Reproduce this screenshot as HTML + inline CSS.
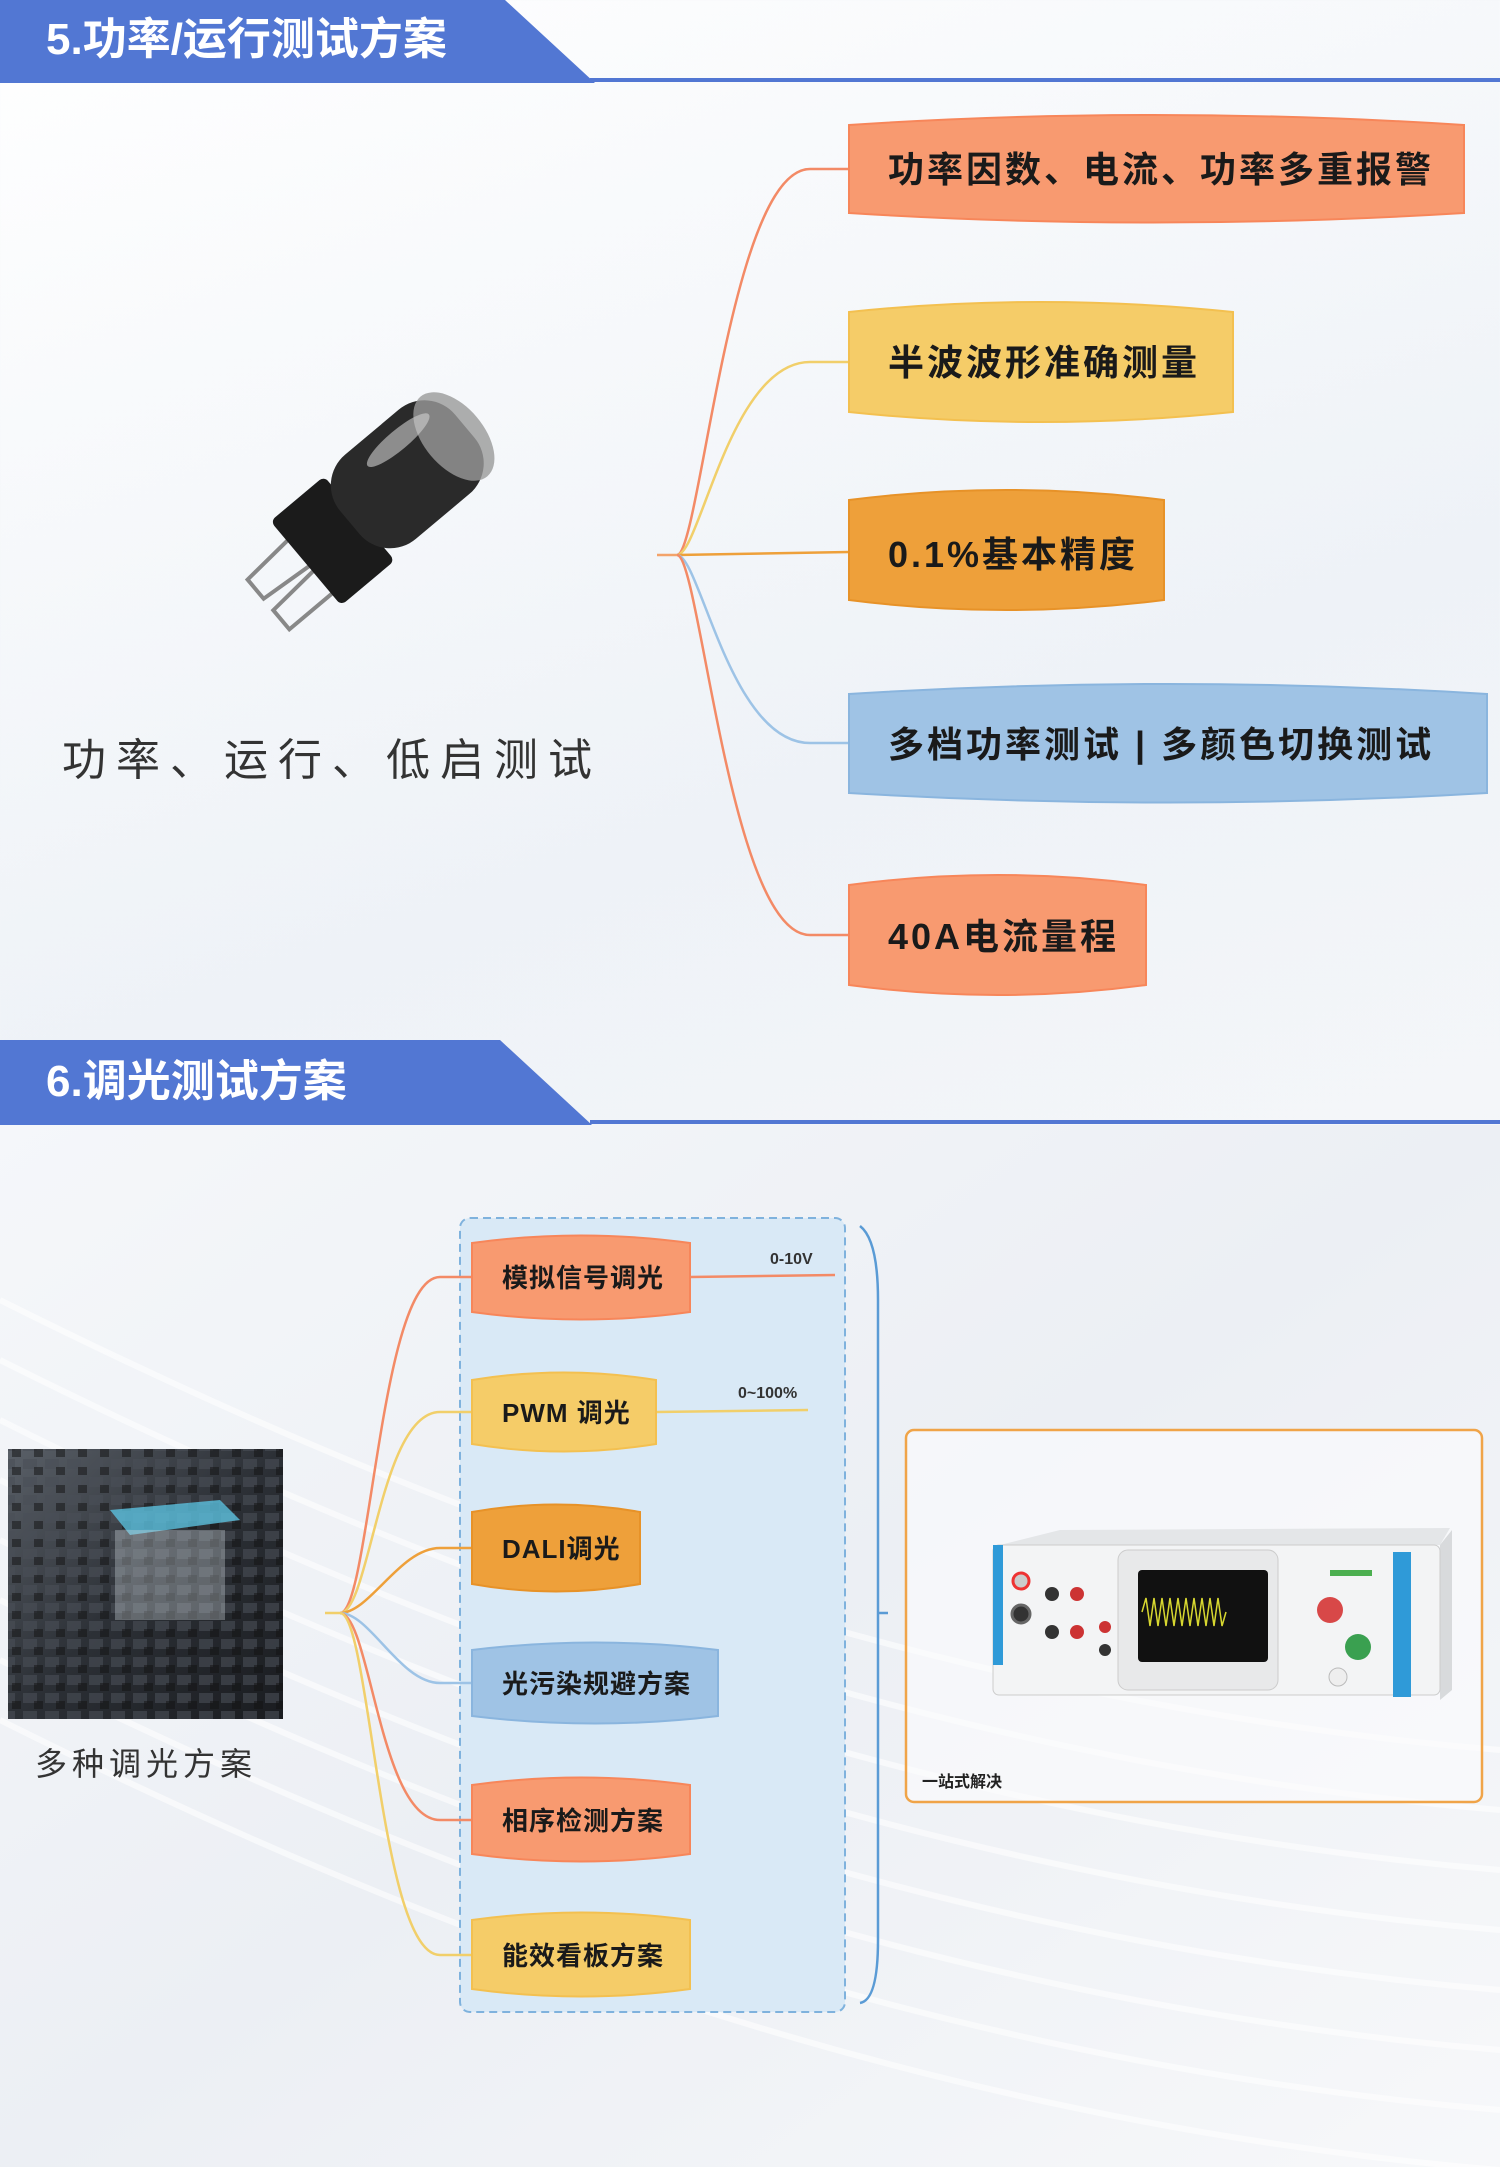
<!DOCTYPE html>
<html><head><meta charset="utf-8"><style>
html,body{margin:0;padding:0;width:1500px;height:2167px;overflow:hidden;}
body{background:linear-gradient(160deg,#ffffff 0%,#eef2f7 40%,#f4f6f9 60%,#e9edf2 100%);font-family:"Liberation Sans","Noto Sans CJK SC",sans-serif;}
svg text{font-family:"Liberation Sans","Noto Sans CJK SC",sans-serif;}
</style></head><body>
<svg width="1500" height="2167" viewBox="0 0 1500 2167" xmlns="http://www.w3.org/2000/svg">
<defs>
<linearGradient id="bg2" x1="0" y1="0" x2="1" y2="1">
<stop offset="0" stop-color="#f5f7fa"/><stop offset="0.5" stop-color="#eceff4"/><stop offset="1" stop-color="#f7f8fa"/>
</linearGradient>
<linearGradient id="photo" x1="0" y1="0" x2="1" y2="1">
<stop offset="0" stop-color="#5a6068"/><stop offset="0.5" stop-color="#2c3036"/><stop offset="1" stop-color="#1a1c20"/>
</linearGradient>
<pattern id="tiles" width="22" height="18" patternUnits="userSpaceOnUse">
<rect width="22" height="18" fill="none"/><rect x="1" y="1" width="14" height="10" fill="#4a4f57" opacity="0.6"/><rect x="12" y="9" width="9" height="8" fill="#111" opacity="0.5"/>
</pattern>
</defs>
<rect x="0" y="1125" width="1500" height="1042" fill="url(#bg2)"/>
<g stroke="#ffffff" stroke-width="6" fill="none" opacity="0.6">
<path d="M0 1300 C400 1500 900 1700 1500 1750"/><path d="M0 1360 C400 1560 900 1760 1500 1810"/><path d="M0 1420 C400 1620 900 1820 1500 1870"/><path d="M0 1480 C400 1680 900 1880 1500 1930"/><path d="M0 1540 C400 1740 900 1940 1500 1990"/><path d="M0 1600 C400 1800 900 2000 1500 2050"/><path d="M0 1660 C400 1860 900 2060 1500 2110"/><path d="M0 1720 C400 1920 900 2120 1500 2170"/>
</g>

<polygon points="0,0 505,0 595,83 0,83" fill="#5277d3"/>
<rect x="590" y="78" width="910" height="4" fill="#5277d3"/>
<text x="46" y="54" font-size="44" font-weight="bold" fill="#fff">5.功率/运行测试方案</text>

<g transform="translate(330,530) rotate(-40)">
<path d="M-30 -20 L-95 -15 L-95 10 L-30 15" stroke="#888" stroke-width="4" fill="none"/>
<path d="M-30 25 L-95 30 L-95 55 L-30 55" stroke="#888" stroke-width="4" fill="none" transform="translate(0,-5)"/>
<rect x="-40" y="-45" width="70" height="110" rx="6" fill="#1b1b1b"/>
<rect x="20" y="-48" width="150" height="110" rx="40" fill="#2a2a2a"/>
<ellipse cx="155" cy="8" rx="30" ry="52" fill="#9a9a9a" opacity="0.8"/>
<ellipse cx="110" cy="-25" rx="40" ry="10" fill="#d0d0d0" opacity="0.6"/>
</g>
<text x="62" y="775" font-size="44" fill="#333" letter-spacing="10">功率、运行、低启测试</text>

<g fill="none" stroke-width="2.5">
<path d="M657 555 L677 555" stroke="#f3a36a"/>
<path d="M677 555 C700 555 730 169 810 169 L849 169" stroke="#f38a66"/>
<path d="M677 555 C700 555 730 362 810 362 L849 362" stroke="#f1cf6a"/>
<path d="M677 555 L849 552" stroke="#eea03a"/>
<path d="M677 555 C700 555 730 743 810 743 L849 743" stroke="#9dc3e6"/>
<path d="M677 555 C700 555 730 935 810 935 L849 935" stroke="#f38a66"/>
</g>
<g stroke-width="2">
<path d="M849 125 Q1150 105 1464 125 L1464 213 Q1150 232 849 213 Z" fill="#f89a70" stroke="#f7865a"/>
<path d="M849 312 Q1040 292 1233 312 L1233 412 Q1040 432 849 412 Z" fill="#f5cc68" stroke="#f3c050"/>
<path d="M849 500 Q1006 480 1164 500 L1164 600 Q1006 620 849 600 Z" fill="#eea03a" stroke="#e79228"/>
<path d="M849 694 Q1168 674 1487 694 L1487 793 Q1168 812 849 793 Z" fill="#9fc3e5" stroke="#8ab5de"/>
<path d="M849 885 Q998 865 1146 885 L1146 985 Q998 1005 849 985 Z" fill="#f89a70" stroke="#f7865a"/>
</g>
<g font-size="36" font-weight="bold" fill="#1a1a1a" letter-spacing="3">
<text x="888" y="182">功率因数、电流、功率多重报警</text>
<text x="888" y="375">半波波形准确测量</text>
<text x="888" y="567">0.1%基本精度</text>
<text x="888" y="757">多档功率测试 | 多颜色切换测试</text>
<text x="888" y="949">40A电流量程</text>
</g>

<polygon points="0,1040 500,1040 592,1125 0,1125" fill="#5277d3"/>
<rect x="590" y="1120" width="910" height="4" fill="#5277d3"/>
<text x="46" y="1096" font-size="44" font-weight="bold" fill="#fff">6.调光测试方案</text>

<rect x="8" y="1449" width="275" height="270" fill="url(#photo)"/>
<rect x="8" y="1449" width="275" height="270" fill="url(#tiles)"/>
<polygon points="110,1510 220,1500 240,1520 130,1535" fill="#5bc0de" opacity="0.8"/>
<rect x="115" y="1530" width="110" height="90" fill="#cfd6de" opacity="0.35"/>
<text x="35" y="1775" font-size="32" fill="#333" letter-spacing="5">多种调光方案</text>

<rect x="460" y="1218" width="385" height="794" rx="10" fill="#d9e9f6" stroke="#7fb2dd" stroke-width="2" stroke-dasharray="8 5"/>
<path d="M860 1226 Q878 1240 878 1300 L878 1940 Q878 2000 860 2003" stroke="#5a9bd5" stroke-width="2.5" fill="none"/>
<path d="M878 1613 L888 1613" stroke="#5a9bd5" stroke-width="2.5"/>

<g fill="none" stroke-width="2.5">
<path d="M325 1613 L340 1613" stroke="#f1cf6a"/>
<path d="M340 1613 C370 1613 380 1277 440 1277 L472 1277" stroke="#f38a66"/>
<path d="M340 1613 C370 1613 380 1412 440 1412 L472 1412" stroke="#f1cf6a"/>
<path d="M340 1613 C370 1613 400 1548 440 1548 L472 1548" stroke="#eea03a"/>
<path d="M340 1613 C370 1613 400 1683 440 1683 L472 1683" stroke="#9dc3e6"/>
<path d="M340 1613 C370 1613 380 1820 440 1820 L472 1820" stroke="#f38a66"/>
<path d="M340 1613 C370 1613 380 1955 440 1955 L472 1955" stroke="#f1cf6a"/>
<path d="M690 1277 L835 1275" stroke="#f38a66"/>
<path d="M656 1412 L808 1410" stroke="#f1cf6a"/>
</g>
<text x="770" y="1264" font-size="16" font-weight="bold" fill="#333">0-10V</text>
<text x="738" y="1398" font-size="16" font-weight="bold" fill="#333">0~100%</text>
<g stroke-width="2">
<path d="M472 1243 Q581 1228 690 1243 L690 1312 Q581 1327 472 1312 Z" fill="#f89a70" stroke="#f7865a"/>
<path d="M472 1380 Q564 1365 656 1380 L656 1444 Q564 1459 472 1444 Z" fill="#f5cc68" stroke="#f3c050"/>
<path d="M472 1512 Q556 1497 640 1512 L640 1584 Q556 1599 472 1584 Z" fill="#eea03a" stroke="#e79228"/>
<path d="M472 1650 Q595 1635 718 1650 L718 1716 Q595 1731 472 1716 Z" fill="#9fc3e5" stroke="#8ab5de"/>
<path d="M472 1785 Q581 1770 690 1785 L690 1854 Q581 1869 472 1854 Z" fill="#f89a70" stroke="#f7865a"/>
<path d="M472 1920 Q581 1905 690 1920 L690 1989 Q581 2004 472 1989 Z" fill="#f5cc68" stroke="#f3c050"/>
</g>
<g font-size="26" font-weight="bold" fill="#1a1a1a" letter-spacing="1">
<text x="502" y="1287">模拟信号调光</text>
<text x="502" y="1422">PWM 调光</text>
<text x="502" y="1558">DALI调光</text>
<text x="502" y="1693">光污染规避方案</text>
<text x="502" y="1830">相序检测方案</text>
<text x="502" y="1965">能效看板方案</text>
</g>

<rect x="906" y="1430" width="576" height="372" rx="8" fill="#fbfcfd" fill-opacity="0.6" stroke="#f0a448" stroke-width="2.5"/>
<text x="922" y="1787" font-size="16" font-weight="bold" fill="#222">一站式解决</text>
<g>
<polygon points="1000,1545 1060,1530 1450,1528 1440,1545" fill="#e4e6e8"/>
<polygon points="1440,1545 1452,1530 1452,1690 1440,1700" fill="#d8dadc"/>
<rect x="993" y="1545" width="447" height="150" rx="6" fill="#f3f4f5" stroke="#ccc"/>
<rect x="993" y="1545" width="10" height="120" fill="#2f9ad8"/>
<rect x="1393" y="1552" width="18" height="145" fill="#2f9ad8"/>
<rect x="1118" y="1550" width="160" height="140" rx="10" fill="#e8e9ea" stroke="#ccc"/>
<rect x="1138" y="1570" width="130" height="92" rx="4" fill="#111"/>
<path d="M1142 1612 l4 -14 l4 28 l4 -28 l4 28 l4 -28 l4 28 l4 -28 l4 28 l4 -28 l4 28 l4 -28 l4 28 l4 -28 l4 28 l4 -28 l4 28 l4 -28 l4 28 l4 -28 l4 28 l4 -14" stroke="#d8d830" stroke-width="1.5" fill="none"/>
<circle cx="1021" cy="1581" r="8" fill="#ccc" stroke="#e33" stroke-width="3"/>
<circle cx="1021" cy="1614" r="9" fill="#333" stroke="#666" stroke-width="3"/>
<circle cx="1052" cy="1594" r="7" fill="#333"/><circle cx="1077" cy="1594" r="7" fill="#c33"/>
<circle cx="1052" cy="1632" r="7" fill="#333"/><circle cx="1077" cy="1632" r="7" fill="#c33"/>
<circle cx="1105" cy="1627" r="6" fill="#c33"/><circle cx="1105" cy="1650" r="6" fill="#333"/>
<circle cx="1330" cy="1610" r="13" fill="#d84848"/>
<circle cx="1358" cy="1647" r="13" fill="#3aa050"/>
<circle cx="1338" cy="1677" r="9" fill="#eee" stroke="#bbb"/>
<rect x="1330" y="1570" width="42" height="6" fill="#4caf50"/>
</g>
</svg>
</body></html>
